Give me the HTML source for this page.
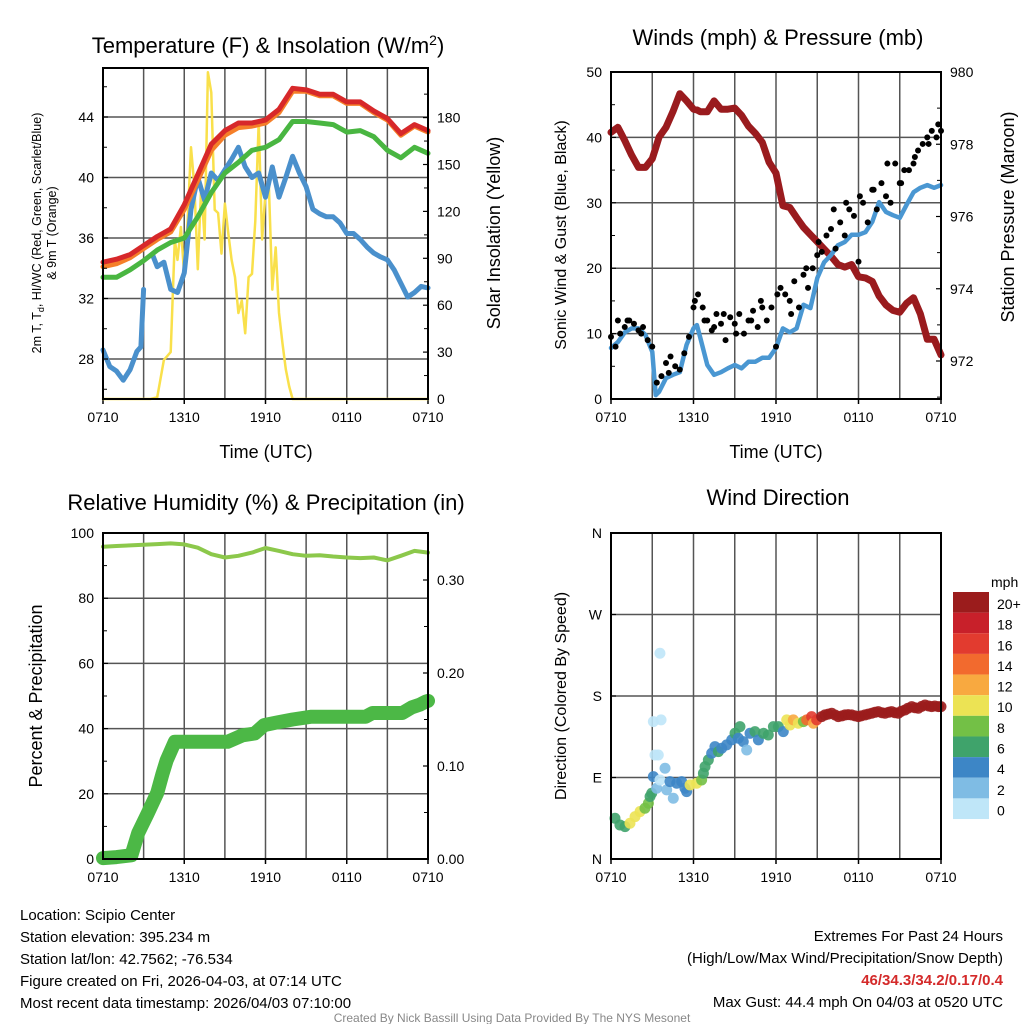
<!DOCTYPE html>
<html><head><meta charset="utf-8"><style>
html,body{margin:0;padding:0;background:#fff;}
svg{display:block;font-family:"Liberation Sans",Arial,sans-serif;}
</style></head><body>
<svg id="chart" width="1024" height="1024" viewBox="0 0 1024 1024" xmlns="http://www.w3.org/2000/svg">
<rect x="0" y="0" width="1024" height="1024" fill="#fff"/>
<g id="p1"></g>
<g id="p2"></g>
<g id="p3"></g>
<g id="p4"></g>
<g id="cbar"></g>
<text x="268" y="53" font-size="22" text-anchor="middle">Temperature (F) &amp; Insolation (W/m<tspan dy="-8" font-size="14">2</tspan><tspan dy="8">)</tspan></text>
<text x="778" y="45" font-size="22" text-anchor="middle">Winds (mph) &amp; Pressure (mb)</text>
<text x="266" y="510" font-size="22" text-anchor="middle">Relative Humidity (%) &amp; Precipitation (in)</text>
<text x="778" y="505" font-size="22" text-anchor="middle">Wind Direction</text>
<text x="266" y="458" font-size="18" text-anchor="middle">Time (UTC)</text>
<text x="776" y="458" font-size="18" text-anchor="middle">Time (UTC)</text>
<text transform="translate(41,233) rotate(-90)" font-size="12.5" text-anchor="middle">2m T, T<tspan font-size="9" dy="3">d</tspan><tspan dy="-3">, HI/WC (Red, Green, Scarlet/Blue)</tspan></text>
<text transform="translate(56,233) rotate(-90)" font-size="12.5" text-anchor="middle">&amp; 9m T (Orange)</text>
<text transform="translate(500,233) rotate(-90)" font-size="18" text-anchor="middle">Solar Insolation (Yellow)</text>
<text transform="translate(566,235) rotate(-90)" font-size="16" text-anchor="middle">Sonic Wind &amp; Gust (Blue, Black)</text>
<text transform="translate(1014,217) rotate(-90)" font-size="18" text-anchor="middle">Station Pressure (Maroon)</text>
<text transform="translate(42,696) rotate(-90)" font-size="18" text-anchor="middle">Percent &amp; Precipitation</text>
<text transform="translate(566,696) rotate(-90)" font-size="16" text-anchor="middle">Direction (Colored By Speed)</text>
<g font-size="15">
<text x="20" y="920">Location: Scipio Center</text>
<text x="20" y="942">Station elevation: 395.234 m</text>
<text x="20" y="964">Station lat/lon: 42.7562; -76.534</text>
<text x="20" y="986">Figure created on Fri, 2026-04-03, at 07:14 UTC</text>
<text x="20" y="1008">Most recent data timestamp: 2026/04/03 07:10:00</text>
</g>
<g font-size="15" text-anchor="end">
<text x="1003" y="941">Extremes For Past 24 Hours</text>
<text x="1003" y="963">(High/Low/Max Wind/Precipitation/Snow Depth)</text>
<text x="1003" y="985" fill="#d42a2a" font-weight="bold">46/34.3/34.2/0.17/0.4</text>
<text x="1003" y="1007">Max Gust: 44.4 mph On 04/03 at 0520 UTC</text>
</g>
<text x="512" y="1022" font-size="12" fill="#888" text-anchor="middle">Created By Nick Bassill Using Data Provided By The NYS Mesonet</text>
</svg>
<script>
// ---- data ----
const xTickLabels = ["0710","1310","1910","0110","0710"];
const tempHours = [0,1,2,3,4,5,6,7,8,9,10,11,12,13,14,15,16,17,18,19,20,21,22,23,24];
const tempRed = [34.4,34.6,34.9,35.5,36.1,36.6,38.2,40.2,42.2,43.1,43.6,43.6,43.8,44.5,45.9,45.8,45.5,45.5,45.0,45.0,44.4,43.9,42.9,43.5,43.1];
const tempOrange = [34.1,34.3,34.7,35.3,35.9,36.4,37.9,39.8,41.8,42.8,43.3,43.4,43.6,44.3,45.7,45.7,45.4,45.4,44.9,44.9,44.3,43.8,42.8,43.4,43.0];
const tempGreen = [33.4,33.4,33.9,34.5,35.2,35.7,36.0,37.4,39.0,40.3,41.0,41.8,42.0,42.5,43.7,43.7,43.6,43.5,43.0,43.1,42.7,41.8,41.3,42.0,41.6];
const dewHours = [0,0.5,1,1.5,2,2.5,2.8,3.0,3.2,3.7,4,4.5,5,5.5,6,6.5,7,7.5,8,8.5,9,9.5,10,10.5,11,11.5,12,12.5,13,13.5,14,14.5,15,15.5,16,16.5,17,17.5,18,18.5,19,19.5,20,20.5,21,21.5,22,22.5,23,23.5,24];
const dewBlue = [28.6,27.5,27.2,26.6,27.3,28.5,28.8,32.6,null,34.8,34.1,34.4,32.6,32.4,33.7,37.9,40.0,38.5,40.3,39.8,40.5,41.2,42.0,40.7,40.0,40.3,38.7,40.7,38.7,40.0,41.4,40.3,39.4,37.9,37.6,37.4,37.4,37.0,36.3,36.3,35.9,35.4,35.0,34.75,34.55,33.9,33.0,32.1,32.4,32.8,32.7];
const solarHours = [0,3,3.5,4,4.5,5,5.3,5.5,5.75,6,6.25,6.5,6.75,7,7.25,7.5,7.75,8,8.25,8.5,8.75,9,9.25,9.5,9.75,10,10.25,10.5,10.75,11,11.25,11.5,11.75,12,12.25,12.5,12.75,13,13.25,13.5,13.75,14,24];
const solarVals = [0,0,0,1,25,30,102,89,110,78,114,161,136,83,136,102,209,196,121,119,93,125,106,89,78,55,63,42,78,80,114,177,102,132,136,70,97,55,36,19,8,0,0];
const tempTicks = [28,32,36,40,44];
const solarTicks = [0,30,60,90,120,150,180];

const windHours = [0,0.5,1,1.5,2,2.5,3,3.25,3.5,4,4.5,5,5.5,6,6.25,6.5,7,7.5,8,8.5,9,9.5,10,10.5,11,11.5,12,12.5,13,13.5,14,14.5,15,15.5,16,16.5,17,17.5,18,18.5,19,19.5,20,20.5,21,21.5,22,22.5,23,23.5,24];
const windSonic = [7.8,8.7,10.2,10.8,10.8,9.8,7.2,0.6,1.1,3.2,3.7,4.1,8.3,10.8,11.3,9.3,5.2,3.7,4.1,4.7,5.2,4.7,5.7,5.7,6.3,6.3,7.8,10.8,10.2,10.8,14.4,13.9,18.5,20.9,22.0,23.5,24.0,25.1,25.1,25.5,27.1,30.1,28.6,28.1,27.7,29.7,31.6,32.3,32.7,32.3,32.7];
const pressHours = windHours;
const pressVals = [978.33,978.47,978.1,977.7,977.36,977.36,977.6,977.9,978.2,978.47,978.9,979.4,979.2,978.97,978.95,978.9,978.9,979.2,978.97,978.97,979.0,978.8,978.5,978.3,978.05,977.5,977.2,976.3,976.25,975.97,975.7,975.5,975.3,975.1,974.9,974.67,974.6,974.67,974.33,974.3,974.2,973.8,973.55,973.4,973.35,973.6,973.75,973.3,972.6,972.6,972.17];
const gustHours = [0,0.33,0.67,1,1.33,1.67,2,2.33,2.67,3,3.33,3.67,4,4.33,4.67,5,5.33,5.67,6,6.33,6.67,7,7.33,7.67,8,8.33,8.67,9,9.33,9.67,10,10.33,10.67,11,11.33,11.67,12,12.33,12.67,13,13.33,13.67,14,14.33,14.67,15,15.33,15.67,16,16.33,16.67,17,17.33,17.67,18,18.33,18.67,19,19.33,19.67,20,20.33,20.67,21,21.33,21.67,22,22.33,22.67,23,23.33,23.67,24, 0.5,1.2,2.2,4.2,6.1,6.8,7.5,8.2,9.1,10.2,10.9,12.1,13.1,14.2,15.1,16.2,17.1,18.1,19.1,20.1,21.1,22.1,23.1,23.8];
const gustVals = [9.5,8,10,11,12,11.5,10.5,11,9,8,2.5,3.5,5.5,6.5,5,4.5,7,9.5,14,16,14,12,10.5,13,11.5,9,12.5,11.5,13,10,12,13.5,11,14,12,14,8,17,16,15,18,14,19,17,20,22,22.5,25,26,23,27,25,29,28,21,30,27,32,29,33,31,30,36,33,35,35,36,38,39,40,41,40,41, 12,12,10,4,15,12,11,13,10,12,15,16,13,20,24,29,30,31,32,36,33,37,39,42];
const windTicks = [0,10,20,30,40,50];
const pressTicks = [972,974,976,978,980];

const rhHours = [0,1,2,3,4,5,6,7,8,9,10,11,12,13,14,15,16,17,18,19,20,21,22,23,24];
const rhVals = [95.8,96,96.2,96.4,96.6,96.8,96.5,95.5,93.5,92.5,93,94,95.4,94.5,93.5,93,93.2,92.8,92.5,92.3,92.5,91.6,93,94.5,94];
const precipHours = [0,1,2.1,2.6,3.3,4.0,4.4,4.7,5.3,6,7,8,9.2,10.3,11.2,11.9,12.9,14,15.4,17,19.4,19.9,21,22.1,22.8,23.4,23.8,24];
const precipVals = [0.001,0.002,0.004,0.028,0.049,0.071,0.092,0.106,0.126,0.126,0.126,0.126,0.126,0.133,0.135,0.144,0.147,0.150,0.153,0.153,0.153,0.157,0.157,0.157,0.163,0.166,0.169,0.170];
const pctTicks = [0,20,40,60,80,100];
const precipTicks = [0.00,0.10,0.20,0.30];

const dirHours = [0.29,0.65,1.02,1.38,1.75,2.11,2.47,2.72,2.84,2.96,3.08,3.32,3.56,3.44,3.20,3.08,3.64,3.56,3.93,4.05,4.53,4.29,4.78,5.14,5.38,5.50,5.75,6.23,6.59,6.72,6.84,7.08,7.32,7.56,7.81,8.05,8.41,8.78,9.02,9.26,9.38,9.62,9.87,10.11,10.47,10.72,11.08,11.44,11.81,12.17,12.53,12.78,13.02,13.26,13.62,13.99,14.23,14.59,14.72,14.96,15.32,15.56,15.8,16.05,16.3,16.53,16.8,17.02,17.25,17.50,17.75,17.99,18.2,18.47,18.7,18.96,19.2,19.44,19.7,19.93,20.2,20.41,20.65,20.90,21.1,21.38,21.6,21.87,22.1,22.35,22.6,22.84,23.1,23.32,23.55,23.81,24.0];
const dirDeg = [45,37.6,35.8,39.5,46.8,52.4,56.0,61.6,69.0,72.6,91.0,78.1,87.3,114.9,114.9,151.7,153.6,227.2,100.2,76.3,67.1,85.5,83.6,85.5,78.1,74.4,81.8,83.6,87.3,94.7,102.0,109.4,116.8,124.1,118.6,122.3,126.0,131.5,138.8,133.3,146.2,129.6,120.4,138.8,140.7,131.5,138.8,137.0,146.2,146.2,140.7,153.6,148.0,153.6,149.9,151.7,153.6,157.2,149.9,153.6,157.2,159.1,160,160.9,159,157.2,158,159.1,159.5,159.1,158,157.2,158,159.1,160,160.9,162,162.8,161.5,160.9,162,162.8,161.5,160.9,163,164.6,166.5,168.3,167,166.5,168.5,170.1,169,168.3,169,168.3,168.3];
const dirSpeed = [6,6,7,10,10,10,9,8,7,7,4,2,1,1,1,0,0,0,2,2,2,4,4,4,5,5,10,10,9,7,7,6,4,4,6,4,4,4,6,4,6,4,3,4,6,4,6,6,7,7,4,10,10,12,10,8,15,16,12,16,20,21,21,21,21,21,22,22,22,22,22,23,23,23,23,24,24,24,24,25,25,25,25,26,26,26,27,27,27,27,28,28,28,28,28,28,28];
const dirTickLabels = ["N","E","S","W","N"];
const dirTickDeg = [0,90,180,270,360];
const speedBinLabels = ["0","2","4","6","8","10","12","14","16","18","20+"];
const speedColors = ["#bfe6f8","#7fbce4","#3d86c6","#3fa36b","#73c046","#ece354","#f8a940","#f26a2e","#e23b2f","#c8202a","#9b1c1c"];

// ---- helpers ----
const NS = "http://www.w3.org/2000/svg";
function mk(tag, parent, attrs) {
  const el = document.createElementNS(NS, tag);
  for (const k in attrs) el.setAttribute(k, attrs[k]);
  parent.appendChild(el);
  return el;
}
function scale(d0, d1, r0, r1) { return v => r0 + (v - d0) / (d1 - d0) * (r1 - r0); }

function frame(g, L, T, R, B, xs, hGrid, name) {
  for (let h = 3; h < 24; h += 3) {
    const ln = mk("line", g, {x1: xs(h), x2: xs(h), y1: T, y2: B, stroke: "#555", "stroke-width": 1.5});
    
    
  }
  hGrid.forEach(y => {
    const ln = mk("line", g, {x1: L, x2: R, y1: y, y2: y, stroke: "#555", "stroke-width": 1.5});
    
    
  });
  xTickLabels.forEach((t, i) => {
    const h = i * 6;
    const tk = mk("line", g, {x1: xs(h), x2: xs(h), y1: B, y2: B + 5, stroke: "#000", "stroke-width": 1.5});
    
    
    const tx = mk("text", g, {x: xs(h), y: B + 23, "font-size": 14, "text-anchor": "middle"});
    tx.textContent = t;
    
    
  });
}
function border(g, L, T, R, B, name) {
  const r = mk("rect", g, {x: L, y: T, width: R - L, height: B - T, fill: "none", stroke: "#000", "stroke-width": 2});
  
  
}
function yTicks(g, ticks, ys, x, side, fmt, name, minor) {
  ticks.forEach(v => {
    const tk = mk("line", g, {x1: x, x2: x + (side === "left" ? 5 : -5), y1: ys(v), y2: ys(v), stroke: "#000", "stroke-width": 1.2});
    
    
    const tx = mk("text", g, {x: side === "left" ? x - 9 : x + 9, y: ys(v) + 5, "font-size": 14, "text-anchor": side === "left" ? "end" : "start"});
    tx.textContent = fmt(v);
    
    
  });
  (minor || []).forEach(v => {
    const tk = mk("line", g, {x1: x, x2: x + (side === "left" ? 4 : -4), y1: ys(v), y2: ys(v), stroke: "#000", "stroke-width": 1});
    
    
  });
}
function pathD(hs, vs, xs, ys) {
  let d = "", pen = false;
  for (let i = 0; i < hs.length; i++) {
    if (vs[i] === null) { pen = false; continue; }
    d += (pen ? "L" : "M") + xs(hs[i]).toFixed(1) + " " + ys(vs[i]).toFixed(1);
    pen = true;
  }
  return d;
}
function series(g, hs, vs, xs, ys, color, w, name) {
  const p = mk("path", g, {d: pathD(hs, vs, xs, ys), fill: "none", stroke: color, "stroke-width": w, "stroke-linejoin": "round", "stroke-linecap": "round"});
  
  
  return p;
}

// ---- Panel 1 ----
(function(){
  const g = document.getElementById("p1");
  const L = 103, R = 428, T = 68, B = 399;
  const xs = scale(0, 24, L, R);
  const yT = scale(28, 44, 359, 117);
  const yS = scale(0, 180, 399, 117.6);
  frame(g, L, T, R, B, xs, tempTicks.map(yT), "temperature");
  series(g, solarHours, solarVals, xs, yS, "#f9e04b", 2.5, "solar-insolation-line");
  series(g, dewHours, dewBlue, xs, yT, "#4a90cc", 5, "dewpoint-line");
  series(g, tempHours, tempGreen, xs, yT, "#49b641", 5, "heat-index-line");
  series(g, tempHours, tempOrange, xs, yT, "#f57f29", 5, "temp-9m-line");
  series(g, tempHours, tempRed, xs, yT, "#d7282a", 5, "temp-2m-line");
  border(g, L, T, R, B, "temperature");
  yTicks(g, tempTicks, yT, L, "left", v => v, "temperature-y", [26,30,34,38,42,46]);
  yTicks(g, solarTicks, yS, R, "right", v => v, "solar-y", [15,45,75,105,135,165,195]);
})();

// ---- Panel 2 ----
(function(){
  const g = document.getElementById("p2");
  const L = 611, R = 941, T = 72, B = 399;
  const xs = scale(0, 24, L, R);
  const yW = scale(0, 50, 399, 72);
  const yP = scale(972, 980, 361, 72);
  frame(g, L, T, R, B, xs, windTicks.map(yW), "winds");
  series(g, pressHours, pressVals, xs, yP, "#9a1b1e", 7, "pressure-line");
  series(g, windHours, windSonic, xs, yW, "#4a97d2", 4.5, "sonic-wind-line");
  gustHours.forEach((h, i) => {
    const c = mk("circle", g, {cx: xs(h), cy: yW(gustVals[i]), r: 3, fill: "#000"});
    
    
  });
  border(g, L, T, R, B, "winds");
  yTicks(g, windTicks, yW, L, "left", v => v, "wind-y", [5,15,25,35,45]);
  yTicks(g, pressTicks, yP, R, "right", v => v, "pressure-y", [971,973,975,977,979]);
})();

// ---- Panel 3 ----
(function(){
  const g = document.getElementById("p3");
  const L = 103, R = 428, T = 533, B = 859;
  const xs = scale(0, 24, L, R);
  const yPc = scale(0, 100, 859, 533);
  const yPr = scale(0, 0.1, 859, 766);
  frame(g, L, T, R, B, xs, pctTicks.map(yPc), "humidity");
  series(g, rhHours, rhVals, xs, yPc, "#8cc84b", 4, "relative-humidity-line");
  series(g, precipHours, precipVals, xs, yPr, "#4cb846", 14, "precipitation-line");
  border(g, L, T, R, B, "humidity");
  yTicks(g, pctTicks, yPc, L, "left", v => v, "percent-y", [10,30,50,70,90]);
  yTicks(g, precipTicks, yPr, R, "right", v => v.toFixed(2), "precip-y", [0.05,0.15,0.25,0.35]);
})();

// ---- Panel 4 ----
(function(){
  const g = document.getElementById("p4");
  const L = 611, R = 941, T = 533, B = 859;
  const xs = scale(0, 24, L, R);
  const yD = scale(0, 360, 859, 533);
  frame(g, L, T, R, B, xs, dirTickDeg.map(yD), "direction");
  dirHours.forEach((h, i) => {
    const bin = Math.max(0, Math.min(10, Math.floor(dirSpeed[i] / 2)));
    const c = mk("circle", g, {cx: xs(h), cy: yD(dirDeg[i]), r: 5.5, fill: speedColors[bin], "fill-opacity": 0.9});
    
    
  });
  border(g, L, T, R, B, "direction");
  yTicks(g, dirTickDeg, yD, L, "left", v => dirTickLabels[dirTickDeg.indexOf(v)], "direction-y", []);
  const cb = document.getElementById("cbar");
  const top = 592, bh = 20.64;
  speedColors.slice().reverse().forEach((col, i) => {
    const r = mk("rect", cb, {x: 953, y: top + i * bh, width: 36, height: bh, fill: col});
    
    
  });
  const lbls = speedBinLabels.slice().reverse();
  lbls.forEach((t, i) => {
    const tx = mk("text", cb, {x: 997, y: top + i * bh + 17, "font-size": 14});
    tx.textContent = t;
    
    
  });
  const u = mk("text", cb, {x: 991, y: 587, "font-size": 14});
  u.textContent = "mph";
  
  
})();
</script>
</body></html>
